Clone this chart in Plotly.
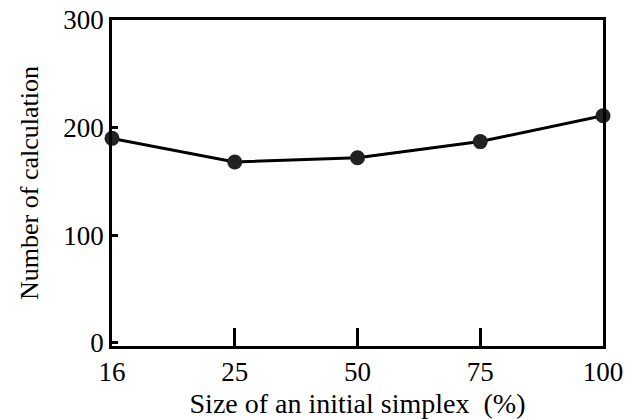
import plotly.graph_objects as go

categories = ["16", "25", "50", "75", "100"]
calculations = [190, 168, 172, 187, 211]
y_ticks = [0, 100, 200, 300]

xpos = list(range(len(categories)))
family = "Liberation Serif, Times New Roman, serif"
font = dict(family=family, size=22, color="black")
tickfont = dict(family=family, size=27, color="black")

fig = go.Figure(go.Scatter(
    x=xpos, y=calculations, mode="lines+markers",
    line=dict(color="black", width=3),
    marker=dict(size=15, color="#222222"),
    cliponaxis=False,
))
fig.update_layout(
    width=635, height=419,
    margin=dict(l=112, r=32, t=20, b=73),
    paper_bgcolor="white", plot_bgcolor="white",
    font=font, showlegend=False,
)
fig.update_xaxes(
    range=[0, 4], tickvals=xpos, ticktext=categories, tickfont=tickfont,
    ticks="inside", ticklen=18, tickwidth=2.5, tickcolor="black",
    showline=True, linewidth=2.5, linecolor="black", mirror=True,
    showgrid=False, zeroline=False, automargin=False,
    title=dict(text="Size of an initial simplex  (%)", standoff=12,
               font=dict(family=family, size=28, color="black")),
)
fig.update_yaxes(
    range=[-3, 300], tickvals=y_ticks, tickfont=tickfont,
    ticks="inside", ticklen=6, tickwidth=2.5, tickcolor="black",
    showline=True, linewidth=2.5, linecolor="black", mirror=True,
    showgrid=False, zeroline=False, automargin=False,
    title=dict(text="Number of calculation", standoff=18,
               font=dict(family=family, size=26, color="black")),
)
fig.write_html("out.html")
